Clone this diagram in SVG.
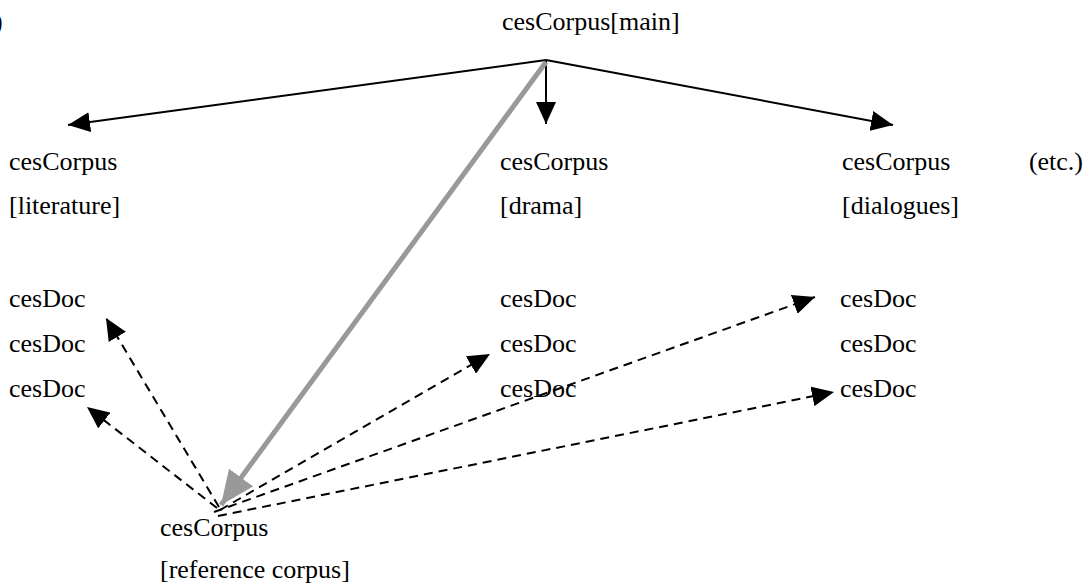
<svg xmlns="http://www.w3.org/2000/svg" width="1085" height="587" viewBox="0 0 1085 587">
<defs>
<style>
text{font-family:'Liberation Serif','Times New Roman',Times,serif;font-size:26px;fill:#000}
.solid{stroke:#000;stroke-width:2;fill:none}
.dash{stroke:#000;stroke-width:2;fill:none;stroke-dasharray:9,6}
.gray{stroke:#999;stroke-width:5;fill:none}
</style>
<marker id="ahb" viewBox="0 0 22 20" refX="22" refY="10" markerWidth="22" markerHeight="20" orient="auto" markerUnits="userSpaceOnUse">
<path d="M0,0 L22,10 L0,20 z" fill="#000"/>
</marker>
<marker id="ahg" viewBox="0 0 34 30" refX="34" refY="15" markerWidth="34" markerHeight="30" orient="auto" markerUnits="userSpaceOnUse">
<path d="M0,0 L34,15 L0,30 z" fill="#999"/>
</marker>
</defs>
<rect width="1085" height="587" fill="#fff"/>
<text x="-6" y="30">)</text>
<g id="connectors">
<line class="solid" x1="546" y1="60" x2="68" y2="125" marker-end="url(#ahb)"/>
<line class="solid" x1="546" y1="60" x2="546" y2="124" marker-end="url(#ahb)"/>
<line class="solid" x1="546" y1="60" x2="893" y2="125" marker-end="url(#ahb)"/>
<line class="gray" x1="546" y1="62" x2="221" y2="505" marker-end="url(#ahg)"/>
<line class="dash" x1="219" y1="507" x2="106" y2="318" marker-end="url(#ahb)"/>
<line class="dash" x1="217" y1="508" x2="87" y2="407" marker-end="url(#ahb)"/>
<line class="dash" x1="220" y1="510" x2="490" y2="354" marker-end="url(#ahb)"/>
<line class="dash" x1="214" y1="512" x2="815" y2="297" marker-end="url(#ahb)"/>
<line class="dash" x1="218" y1="516" x2="834" y2="392" marker-end="url(#ahb)"/>
</g>
<g id="main"><text x="502" y="30">cesCorpus[main]</text></g>
<g id="literature"><text x="9" y="170">cesCorpus</text><text x="9" y="214">[literature]</text></g>
<g id="drama"><text x="500" y="170">cesCorpus</text><text x="500" y="214">[drama]</text></g>
<g id="dialogues"><text x="842" y="170">cesCorpus</text><text x="842" y="214">[dialogues]</text></g>
<g id="etc"><text x="1083" y="170" text-anchor="end">(etc.)</text></g>
<g id="docs-literature"><text x="9" y="307">cesDoc</text><text x="9" y="352">cesDoc</text><text x="9" y="397">cesDoc</text></g>
<g id="docs-drama"><text x="500" y="307">cesDoc</text><text x="500" y="352">cesDoc</text><text x="500" y="397">cesDoc</text></g>
<g id="docs-dialogues"><text x="840" y="307">cesDoc</text><text x="840" y="352">cesDoc</text><text x="840" y="397">cesDoc</text></g>
<g id="reference"><text x="160" y="536">cesCorpus</text><text x="160" y="578">[reference corpus]</text></g>
</svg>
